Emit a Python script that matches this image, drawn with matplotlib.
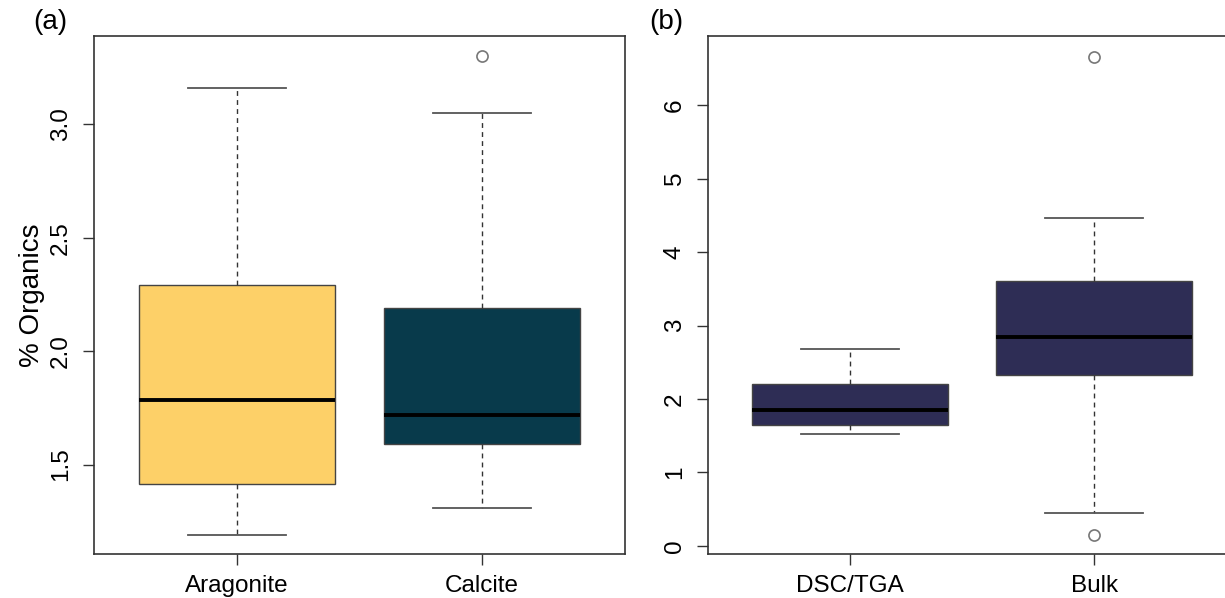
import matplotlib
matplotlib.use("Agg")
import matplotlib.pyplot as plt

plt.rcParams["font.family"] = ["Liberation Sans", "DejaVu Sans"]

# panel (a): % organics by mineralogy
a_labels = ["Aragonite", "Calcite"]
a_whislo = [1.19, 1.31]
a_q1 = [1.416, 1.59]
a_med = [1.784, 1.72]
a_q3 = [2.29, 2.19]
a_whishi = [3.16, 3.05]
a_fliers = [[], [3.30]]
a_colors = ["#FDD068", "#083A4B"]
a_yticks = [1.5, 2.0, 2.5, 3.0]

# panel (b): method comparison
b_labels = ["DSC/TGA", "Bulk"]
b_whislo = [1.53, 0.45]
b_q1 = [1.65, 2.32]
b_med = [1.85, 2.85]
b_q3 = [2.20, 3.60]
b_whishi = [2.68, 4.47]
b_fliers = [[], [6.65, 0.15]]
b_colors = ["#2E2D55", "#2E2D55"]
b_yticks = [0, 1, 2, 3, 4, 5, 6]


def make_stats(labels, lo, q1, med, q3, hi, fliers):
    return [dict(label=l, whislo=w0, q1=a, med=m, q3=b, whishi=w1, fliers=f)
            for l, w0, a, m, b, w1, f in zip(labels, lo, q1, med, q3, hi, fliers)]


def draw(ax, stats, colors, yticks, ylim):
    edge = "#444444"
    bp = ax.bxp(stats, positions=[1, 2], widths=0.8, patch_artist=True,
                boxprops=dict(edgecolor=edge, linewidth=1.0),
                medianprops=dict(color="black", linewidth=2.8, solid_capstyle="butt"),
                whiskerprops=dict(color="#333333", linewidth=1.0, linestyle=(0, (3.5, 3))),
                capprops=dict(color="#555555", linewidth=1.3),
                capwidths=0.4,
                flierprops=dict(marker="o", markerfacecolor="none",
                                markeredgecolor="#777777", markersize=8, markeredgewidth=1.2))
    for patch, c in zip(bp["boxes"], colors):
        patch.set_facecolor(c)
    ax.set_xlim(0.42, 2.58)
    ax.set_ylim(*ylim)
    ax.set_yticks(yticks)
    ax.set_yticklabels([str(t) for t in yticks], rotation=90, va="center")
    for s in ax.spines.values():
        s.set_color("#333333")
        s.set_linewidth(1.2)
    ax.tick_params(axis="both", length=8, width=1.0, color="#333333",
                   labelsize=17.5, pad=7)
    ax.tick_params(axis="y", pad=8)


fig = plt.figure(figsize=(12.25, 5.98), dpi=100)
ax1 = fig.add_axes([0.0771, 0.0736, 0.4327, 0.866])
ax2 = fig.add_axes([0.578, 0.0736, 0.431, 0.866])

draw(ax1, make_stats(a_labels, a_whislo, a_q1, a_med, a_q3, a_whishi, a_fliers),
     a_colors, a_yticks, (1.106, 3.388))
draw(ax2, make_stats(b_labels, b_whislo, b_q1, b_med, b_q3, b_whishi, b_fliers),
     b_colors, b_yticks, (-0.11, 6.94))

ax1.set_ylabel("% Organics", fontsize=20, labelpad=4)

fig.text(0.027, 0.963, "(a)", fontsize=20, va="center", ha="left")
fig.text(0.530, 0.963, "(b)", fontsize=20, va="center", ha="left")

fig.savefig("out.png", dpi=100)
